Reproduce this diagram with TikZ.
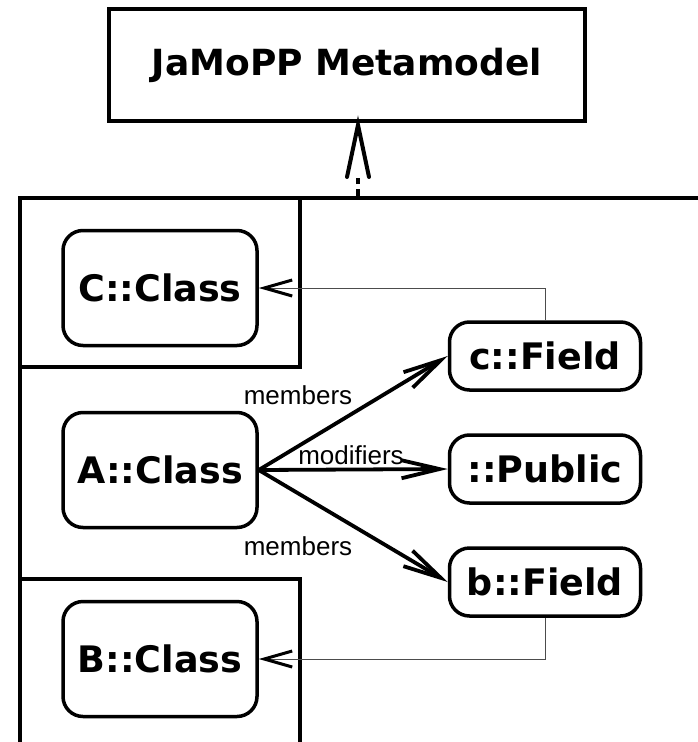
\documentclass[tikz,border=0pt]{standalone}
\usepackage{fontspec}
\newfontfamily\objfont{DejaVu Sans}
\newfontfamily\rolefont{Liberation Sans}
\usetikzlibrary{arrows.meta,positioning}

\begin{document}
\begin{tikzpicture}[x=1pt,y=-1pt]
\tikzstyle{objbox} = [draw, line width=3.5pt, rounded corners=20pt, inner sep=0pt,
  font=\objfont\bfseries\fontsize{36.5}{40}\selectfont]
\tikzstyle{classobj} = [objbox, minimum width=194pt, minimum height=115pt]
\tikzstyle{fieldobj} = [objbox, minimum width=191pt, minimum height=68pt]
\tikzstyle{metabox} = [draw, line width=3.5pt, inner sep=0pt, minimum width=476pt,
  minimum height=112pt, font=\objfont\bfseries\fontsize{36}{40}\selectfont]
\tikzstyle{role} = [font=\rolefont\fontsize{26}{28}\selectfont, inner sep=0pt]
\tikzstyle{link} = [line width=3.8pt, -{Straight Barb[length=38pt,width=18pt]}]
\tikzstyle{ref} = [line width=1pt, black!70,
  -{Straight Barb[length=28pt,width=16pt,line width=3pt,color=black]}]
\tikzstyle{frame} = [line width=3.5pt]

\useasboundingbox (0,0) rectangle (698,742);

% metamodel and instance frame
\node[metabox] (meta) at (347,65) {JaMoPP Metamodel};
\coordinate (ftop) at (358,198);
\coordinate (mtip) at (358,125);
\draw[frame] (20,742) -- (20,198) -- (698,198);
\draw[frame] (20,367) -- (300,367) -- (300,198);
\draw[frame] (20,742) -- (20,579) -- (300,579) -- (300,742);
\draw[line width=3.5pt, dash pattern=on 9pt off 5pt, shorten >=53pt] (ftop) -- (mtip);
\draw[line width=4pt, line cap=round] (mtip) ++(-11,52) -- (mtip) -- ++(11,52);

% objects
\node[classobj] (cclass) at (160,288) {C::Class};
\node[classobj] (aclass) at (160,470) {A::Class};
\node[classobj] (bclass) at (160,659) {B::Class};
\node[fieldobj] (cfield) at (545,356) {c::Field};
\node[fieldobj] (public) at (545,469) {::Public};
\node[fieldobj] (bfield) at (545,582) {b::Field};

% links
\draw[link] (aclass.east) -- (cfield.west);
\draw[link] (aclass.east) -- (public.west);
\draw[link] (aclass.east) -- (bfield.west);
\node[role] (mtop) at (298,395) {members};
\node[role] (mods) at (351,455) {modifiers};
\node[role] (mbot) at (298,546) {members};

% types
\draw[ref] (cfield.north) |- (cclass.east);
\draw[ref] (bfield.south) |- (bclass.east);
\end{tikzpicture}
\end{document}
